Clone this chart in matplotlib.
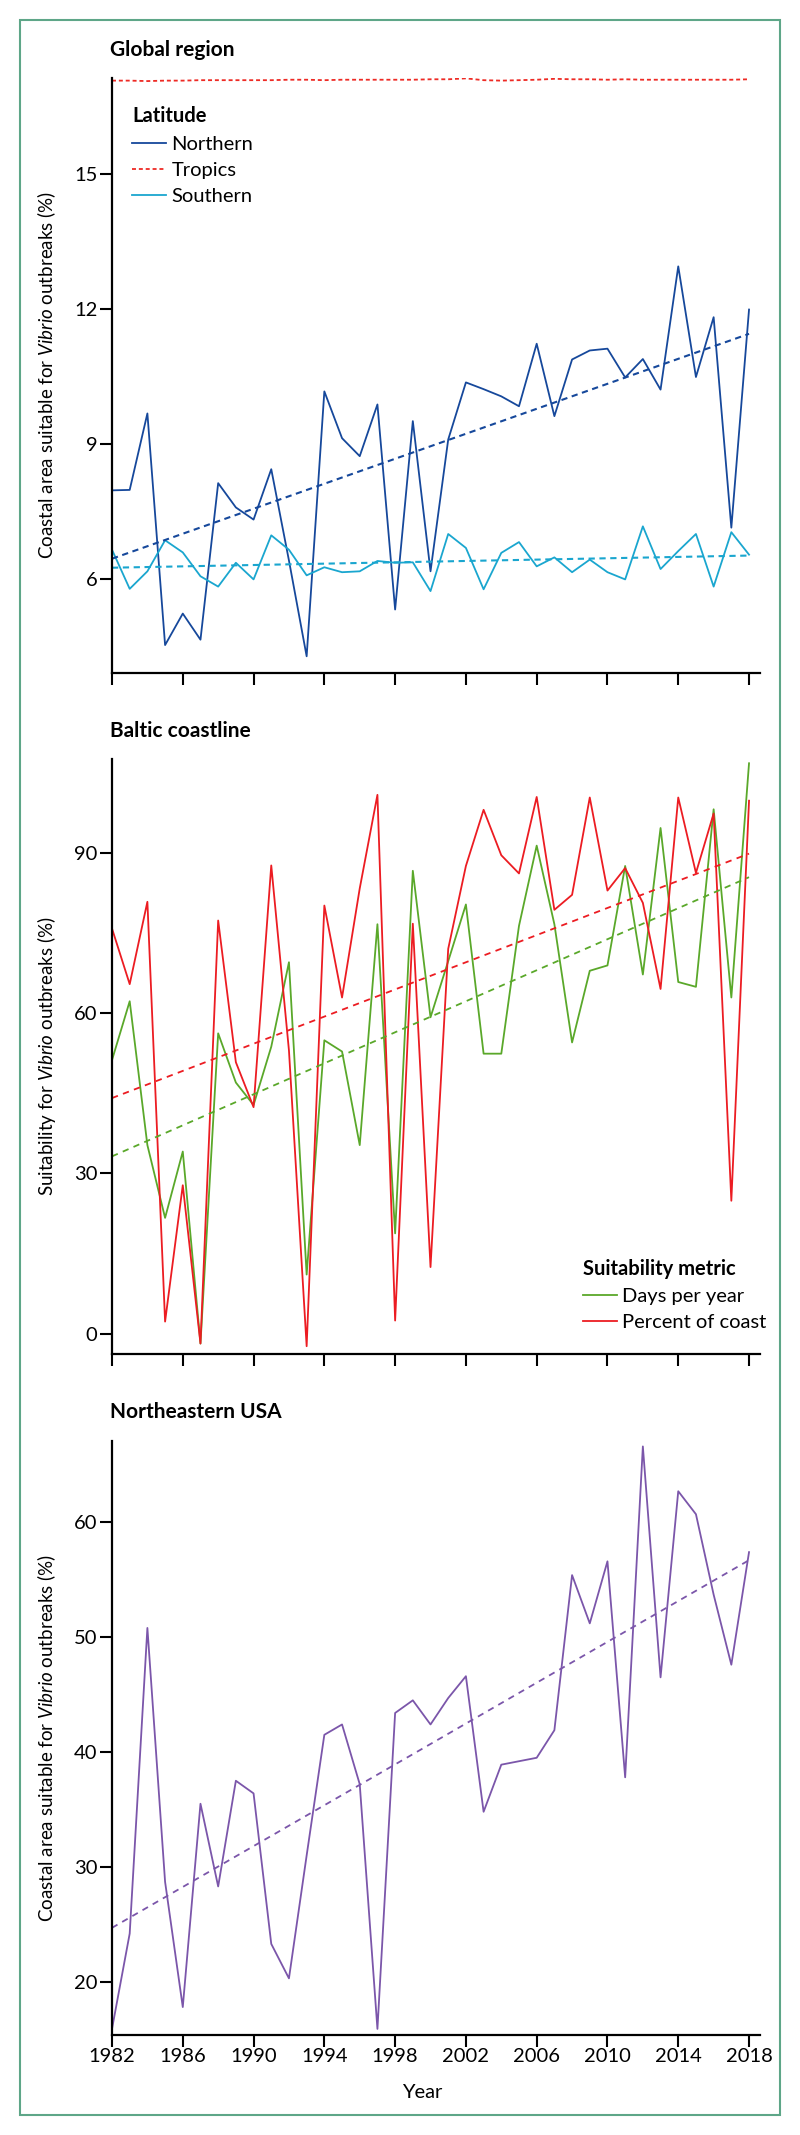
#!/usr/bin/env python3
"""Coastal suitability for Vibrio outbreaks, 1982-2018: global, Baltic, NE USA."""

import matplotlib
matplotlib.use("Agg")
import matplotlib.pyplot as plt
from matplotlib.patches import Rectangle

# ---- data ----
years = list(range(1982, 2019))
trend_years = [1982, 2018]

northern = [7.96, 7.97, 9.67, 4.52, 5.22, 4.64, 8.12, 7.58, 7.31, 8.43,
            6.40, 4.27, 10.16, 9.12, 8.72, 9.87, 5.31, 9.50, 6.16, 9.09,
            10.36, 10.21, 10.05, 9.83, 11.22, 9.61, 10.87, 11.07, 11.11, 10.47,
            10.88, 10.20, 12.94, 10.48, 11.81, 7.13, 11.98]
tropics = [17.07, 17.07, 17.06, 17.07, 17.07, 17.08, 17.08, 17.08, 17.08, 17.08,
           17.09, 17.09, 17.08, 17.09, 17.09, 17.09, 17.09, 17.09, 17.10, 17.10,
           17.12, 17.08, 17.07, 17.08, 17.09, 17.11, 17.10, 17.10, 17.09, 17.10,
           17.09, 17.09, 17.09, 17.09, 17.09, 17.09, 17.10]
southern = [6.64, 5.77, 6.16, 6.85, 6.58, 6.05, 5.82, 6.35, 5.98, 6.96,
            6.64, 6.07, 6.25, 6.14, 6.16, 6.39, 6.35, 6.36, 5.72, 6.99,
            6.68, 5.76, 6.57, 6.81, 6.27, 6.47, 6.14, 6.42, 6.14, 5.98,
            7.16, 6.21, 6.61, 6.99, 5.82, 7.03, 6.53]
northern_trend = [6.44, 11.44]
southern_trend = [6.24, 6.51]

days_per_year = [51.2, 62.2, 35.3, 21.7, 34.1, -1.8, 56.2, 47.0, 42.8, 53.7,
                 69.5, 11.1, 54.9, 52.8, 35.3, 76.6, 18.8, 86.6, 59.2, 69.7,
                 80.3, 52.4, 52.4, 76.3, 91.3, 76.6, 54.5, 67.9, 68.9, 87.5,
                 67.2, 94.6, 65.8, 64.9, 98.1, 62.9, 106.7]
percent_coast = [75.8, 65.4, 80.8, 2.3, 27.8, -1.8, 77.3, 50.8, 42.4, 87.6,
                 53.0, -2.3, 80.1, 62.9, 83.3, 100.8, 2.5, 76.7, 12.5, 72.0,
                 87.5, 98.0, 89.5, 86.1, 100.4, 79.3, 82.1, 100.3, 82.9, 87.1,
                 80.6, 64.5, 100.3, 86.2, 97.3, 24.9, 99.7]
days_trend = [33.2, 85.4]
percent_trend = [44.1, 89.8]

ne_usa = [15.9, 24.2, 50.8, 28.7, 17.8, 35.5, 28.3, 37.5, 36.4, 23.3,
          20.3, 31.0, 41.5, 42.4, 37.2, 15.9, 43.4, 44.5, 42.4, 44.7,
          46.6, 34.8, 38.9, 39.2, 39.5, 41.9, 55.4, 51.2, 56.6, 37.8,
          66.6, 46.5, 62.7, 60.7, 53.7, 47.6, 57.4]
ne_trend = [24.7, 56.7]

x_ticks = list(range(1982, 2019, 4))

# ---- style ----
NORTH = "#16489b"
SOUTH = "#1aa6cf"
TROP = "#ee2a24"
GREEN = "#5aa82a"
RED = "#ec1c22"
PURPLE = "#7b56aa"
BORDER = "#5ea688"

plt.rcParams["font.family"] = ["Lato", "DejaVu Sans"]
plt.rcParams["mathtext.fontset"] = "custom"
plt.rcParams["mathtext.rm"] = "Lato"
plt.rcParams["mathtext.it"] = "Lato:italic"

TICK_FS = 14.5
LABEL_FS = 13.5
TITLE_FS = 15
LEG_FS = 14.5
LW = 1.3


def _style_axes(ax, ylim, yticks, show_xlabels):
    ax.set_xlim(1982, 2018.62)
    ax.set_ylim(*ylim)
    ax.set_yticks(yticks)
    ax.set_xticks(x_ticks)
    for s in ("top", "right"):
        ax.spines[s].set_visible(False)
    for s in ("left", "bottom"):
        ax.spines[s].set_linewidth(1.6)
    ax.tick_params(axis="both", direction="out", length=8.5, width=1.5,
                   labelsize=TICK_FS, pad=2)
    ax.tick_params(axis="x", pad=1)
    if not show_xlabels:
        ax.set_xticklabels([])
    ax.yaxis.set_label_coords(-0.083, 0.5)


def _legend(ax, handles, labels, title, anchor):
    leg = ax.legend(handles, labels, title=title, loc="upper left",
                    bbox_to_anchor=anchor, frameon=False, fontsize=LEG_FS,
                    title_fontsize=LEG_FS, handlelength=1.7, handletextpad=0.25,
                    labelspacing=0.45, borderpad=0, borderaxespad=0,
                    alignment="left")
    leg.get_title().set_fontweight("bold")
    return leg


fig = plt.figure(figsize=(8, 21.35), dpi=100)
ax1 = fig.add_axes([0.14, 0.6848, 0.81, 0.2787])
ax2 = fig.add_axes([0.14, 0.3658, 0.81, 0.2787])
ax3 = fig.add_axes([0.14, 0.04684, 0.81, 0.2782])

# Global region
h_n, = ax1.plot(years, northern, color=NORTH, lw=LW)
h_t, = ax1.plot(years, tropics, color=TROP, lw=LW, ls=(0, (2.2, 1.6)))
h_s, = ax1.plot(years, southern, color=SOUTH, lw=LW)
ax1.plot(trend_years, northern_trend, color=NORTH, lw=LW + 0.2, ls=(0, (3, 2.2)))
ax1.plot(trend_years, southern_trend, color=SOUTH, lw=LW + 0.2, ls=(0, (3, 2.2)))
_style_axes(ax1, (3.9, 17.13), [6, 9, 12, 15], False)
ax1.set_ylabel("Coastal area suitable for $\\mathit{Vibrio}$ outbreaks (%)",
               fontsize=LABEL_FS)
_legend(ax1, [h_n, h_t, h_s], ["Northern", "Tropics", "Southern"],
        "Latitude", (0.031, 0.952))
ax1.text(-0.003, 1.047, "Global region", transform=ax1.transAxes,
         fontsize=TITLE_FS, fontweight="bold", va="center", ha="left")

# Baltic coastline
h_d, = ax2.plot(years, days_per_year, color=GREEN, lw=LW)
h_p, = ax2.plot(years, percent_coast, color=RED, lw=LW)
ax2.plot(trend_years, days_trend, color=GREEN, lw=LW, ls=(0, (3.5, 3)))
ax2.plot(trend_years, percent_trend, color=RED, lw=LW, ls=(0, (3.5, 3)))
_style_axes(ax2, (-3.76, 107.5), [0, 30, 60, 90], False)
ax2.set_ylabel("Suitability for $\\mathit{Vibrio}$ outbreaks (%)", fontsize=LABEL_FS)
_legend(ax2, [h_d, h_p], ["Days per year", "Percent of coast"],
        "Suitability metric", (0.727, 0.16))
ax2.text(-0.003, 1.047, "Baltic coastline", transform=ax2.transAxes,
         fontsize=TITLE_FS, fontweight="bold", va="center", ha="left")

# Northeastern USA
ax3.plot(years, ne_usa, color=PURPLE, lw=LW)
ax3.plot(trend_years, ne_trend, color=PURPLE, lw=LW, ls=(0, (3.5, 3)))
_style_axes(ax3, (15.37, 67.07), [20, 30, 40, 50, 60], True)
ax3.set_ylabel("Coastal area suitable for $\\mathit{Vibrio}$ outbreaks (%)",
               fontsize=LABEL_FS)
ax3.set_xlabel("Year", fontsize=LABEL_FS + 1)
ax3.xaxis.set_label_coords(0.478, -0.082)
ax3.text(-0.003, 1.049, "Northeastern USA", transform=ax3.transAxes,
         fontsize=TITLE_FS, fontweight="bold", va="center", ha="left")

# green frame around the whole figure
fig.patches.append(Rectangle((0.025, 0.00937), 0.95, 0.98126, transform=fig.transFigure,
                             fill=False, edgecolor=BORDER, lw=1.5))

fig.savefig("out.png", dpi=100)
